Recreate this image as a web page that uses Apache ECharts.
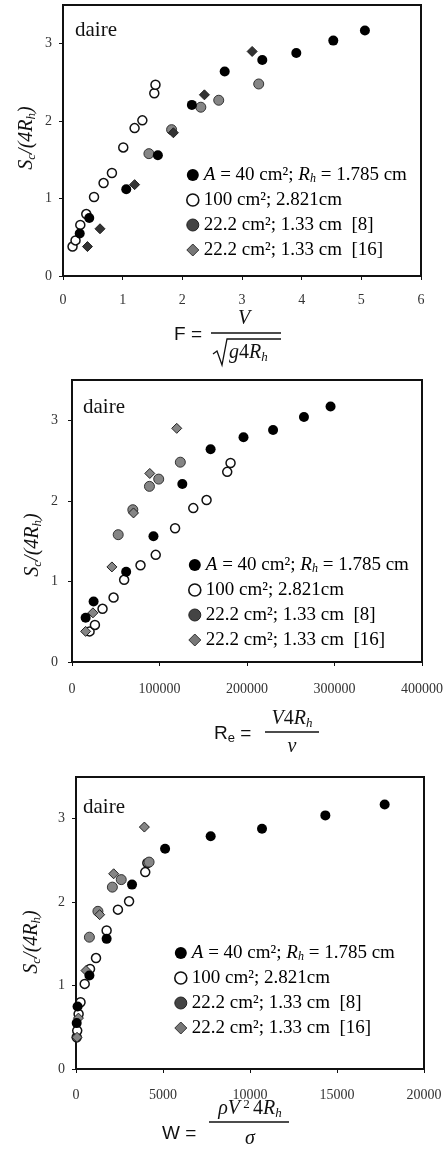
<!DOCTYPE html>
<html>
<head>
<meta charset="utf-8">
<title>daire</title>
<script src="https://cdn.jsdelivr.net/npm/echarts@6.0.0/dist/echarts.min.js"></script>
<style>
  html, body { margin: 0; padding: 0; background: #fff; }
  #main { width: 446px; height: 1167px; }
</style>
</head>
<body>
<div id="main"></div>
<script>
// ordinate shared by the three panels: Sc/(4Rh)
var yA = [0.55, 0.75, 1.12, 1.56, 2.21, 2.64, 2.79, 2.88, 3.04, 3.17];
var yB = [0.38, 0.46, 0.66, 0.80, 1.02, 1.20, 1.33, 1.66, 1.91, 2.01, 2.36, 2.47];
var yC = [1.58, 1.89, 2.18, 2.27, 2.48];
var yD = [0.38, 0.61, 1.18, 1.85, 2.34, 2.90];

// panel 1 : Froude number
var fA = [0.28, 0.44, 1.06, 1.59, 2.16, 2.71, 3.34, 3.91, 4.53, 5.06];
var fB = [0.16, 0.21, 0.29, 0.39, 0.52, 0.68, 0.82, 1.01, 1.20, 1.33, 1.53, 1.55];
var fC = [1.44, 1.82, 2.31, 2.61, 3.28];
var fD = [0.41, 0.62, 1.20, 1.85, 2.37, 3.17];

// panel 2 : Reynolds number
var reA = [15600, 24700, 61900, 93100, 126100, 158400, 196000, 229800, 265100, 295500];
var reB = [20100, 26200, 34900, 47500, 59600, 78300, 95700, 117800, 138600, 153800, 177400, 181200];
var reC = [52800, 69500, 88500, 99100, 123800];
var reD = [15600, 23900, 45600, 70300, 88900, 119700];

// panel 3 : Weber number
var wA = [40, 90, 770, 1760, 3220, 5120, 7740, 10690, 14330, 17740];
var wB = [40, 70, 150, 260, 500, 805, 1150, 1760, 2410, 3050, 3980, 4100];
var wC = [770, 1260, 2090, 2600, 4200];
var wD = [60, 140, 575, 1360, 2165, 3930];

var seriesNames = [
  'A = 40 cm²; Rh = 1.785 cm',
  '100 cm²; 2.821cm',
  '22.2 cm²; 1.33 cm [8]',
  '22.2 cm²; 1.33 cm [16]'
];
var legendRich = [
  '{i|A}{n| = 40 cm²; }{i|R}{s|h}{n| = 1.785 cm}',
  '{n|100 cm²; 2.821cm}',
  '{n|22.2 cm²; 1.33 cm  [8]}',
  '{n|22.2 cm²; 1.33 cm  [16]}'
];
var xMax = [6, 400000, 20000];
var xStep = [1, 100000, 5000];
var yTicks = [0, 1, 2, 3];

var serif = '"Liberation Serif", "Times New Roman", serif';
var sans = '"Liberation Sans", Arial, sans-serif';

var chart = echarts.init(document.getElementById('main'));

// layout of the three stacked panels
var panels = [
  { left: 63, top: 5, width: 358, height: 271, xMargin: 17, yMargin: 11, legendLeft: 186, legendTop: 165 },
  { left: 72, top: 380, width: 351, height: 282, xMargin: 20, yMargin: 14, legendLeft: 188, legendTop: 555 },
  { left: 76, top: 777, width: 348, height: 292, xMargin: 19, yMargin: 11, legendLeft: 174, legendTop: 943 }
];

var xs = [[fA, fB, fC, fD], [reA, reB, reC, reD], [wA, wB, wC, wD]];
var ys = [yA, yB, yC, yD];

function pairs(x, y) {
  return x.map(function (v, i) { return [v, y[i]]; });
}

var grids = [], xAxes = [], yAxes = [], legends = [], series = [];

panels.forEach(function (p, k) {
  grids.push({
    left: p.left, top: p.top, width: p.width, height: p.height,
    show: true, borderColor: '#111', borderWidth: 2
  });
  xAxes.push({
    gridIndex: k, type: 'value', min: 0, max: xMax[k], interval: xStep[k],
    splitLine: { show: false },
    axisLine: { show: true, onZero: false, lineStyle: { color: '#111', width: 2 } },
    axisTick: { show: true, length: 4, lineStyle: { color: '#111' } },
    axisLabel: {
      margin: p.xMargin, fontFamily: serif, fontSize: 14, color: '#333',
      formatter: function (v) { return String(v); }
    }
  });
  yAxes.push({
    gridIndex: k, type: 'value', min: 0, max: 3.5,
    splitLine: { show: false },
    axisLine: { show: true, onZero: false, lineStyle: { color: '#111', width: 2 } },
    axisTick: { show: true, length: 4, customValues: yTicks, lineStyle: { color: '#111' } },
    axisLabel: {
      margin: p.yMargin, fontFamily: serif, fontSize: 14, color: '#333',
      customValues: yTicks,
      formatter: function (v) { return v % 1 === 0 ? String(v) : ''; }
    }
  });
  legends.push({
    orient: 'vertical', left: p.legendLeft, top: p.legendTop,
    itemWidth: 12, itemHeight: 12, itemGap: 5, padding: 0,
    selectedMode: false,
    data: [
      { name: seriesNames[0], icon: 'circle', itemStyle: { color: '#000', borderWidth: 0, opacity: 1 } },
      { name: seriesNames[1], icon: 'circle', itemStyle: { color: '#fff', borderColor: '#111', borderWidth: 1.6, opacity: 1 } },
      { name: seriesNames[2], icon: 'circle', itemStyle: { color: '#444', borderColor: '#222', borderWidth: 1, opacity: 1 } },
      { name: seriesNames[3], icon: 'diamond', itemStyle: { color: '#777', borderColor: '#333', borderWidth: 1, opacity: 1 } }
    ],
    formatter: function (name) { return legendRich[seriesNames.indexOf(name)]; },
    textStyle: {
      color: '#000', lineHeight: 20,
      rich: {
        n: { fontFamily: serif, fontSize: 19, lineHeight: 20, color: '#000' },
        i: { fontFamily: serif, fontSize: 19, fontStyle: 'italic', lineHeight: 20, color: '#000' },
        s: { fontFamily: serif, fontSize: 12, fontStyle: 'italic', lineHeight: 12, verticalAlign: 'bottom', color: '#000' }
      }
    }
  });

  var diamondFill = k === 0 ? '#333' : '#858585';
  var styles = [
    { symbol: 'circle', symbolSize: 10, itemStyle: { color: '#000', opacity: 1 } },
    { symbol: 'circle', symbolSize: 9, itemStyle: { color: '#fff', borderColor: '#111', borderWidth: 1.5, opacity: 1 } },
    { symbol: 'circle', symbolSize: 10, itemStyle: { color: '#858585', borderColor: '#333', borderWidth: 1, opacity: 1 } },
    { symbol: 'diamond', symbolSize: 10, itemStyle: { color: diamondFill, borderColor: '#222', borderWidth: 1, opacity: 1 } }
  ];
  // draw order: open, [8], [16], then black on top
  [1, 2, 3, 0].forEach(function (j) {
    series.push({
      type: 'scatter', name: seriesNames[j],
      xAxisIndex: k, yAxisIndex: k,
      symbol: styles[j].symbol, symbolSize: styles[j].symbolSize,
      itemStyle: styles[j].itemStyle,
      emphasis: { disabled: true },
      data: pairs(xs[k][j], ys[j])
    });
  });
});

// text bits: "daire", y titles and the formula under each x axis
function txt(x, y, text, rich, align, rot) {
  return {
    type: 'text', x: x, y: y, rotation: rot || 0,
    style: {
      text: text, rich: rich,
      textAlign: align || 'left', textVerticalAlign: 'middle', fill: '#111'
    }
  };
}
var R = {
  n: { fontFamily: serif, fontSize: 20, color: '#111', lineHeight: 22 },
  i: { fontFamily: serif, fontSize: 20, fontStyle: 'italic', color: '#111', lineHeight: 22 },
  s: { fontFamily: serif, fontSize: 13, fontStyle: 'italic', color: '#111', lineHeight: 13, verticalAlign: 'bottom' },
  p: { fontFamily: serif, fontSize: 13, color: '#111', lineHeight: 13, verticalAlign: 'top' },
  f: { fontFamily: sans, fontSize: 19, color: '#111', lineHeight: 22 },
  fs: { fontFamily: sans, fontSize: 13, color: '#111', lineHeight: 13, verticalAlign: 'bottom' },
  d: { fontFamily: serif, fontSize: 21, color: '#111', lineHeight: 22 },
  y: { fontFamily: serif, fontSize: 20, fontStyle: 'italic', color: '#222', lineHeight: 22 },
  ys: { fontFamily: serif, fontSize: 13, fontStyle: 'italic', color: '#222', lineHeight: 13, verticalAlign: 'bottom' }
};
var yTitle = '{y|S}{ys|c}{y|/(4R}{ys|h}{y|)}';
var ink = { stroke: '#111', lineWidth: 1.3 };

var graphics = [
  txt(75, 30, '{d|daire}', R),
  txt(83, 407, '{d|daire}', R),
  txt(83, 807, '{d|daire}', R),
  txt(27, 138, yTitle, R, 'center', Math.PI / 2),
  txt(33, 545, yTitle, R, 'center', Math.PI / 2),
  txt(32, 942, yTitle, R, 'center', Math.PI / 2),

  // F = V / sqrt(g 4 Rh)
  txt(174, 335, '{f|F =}', R),
  { type: 'line', shape: { x1: 211, y1: 333, x2: 281, y2: 333 }, style: ink },
  txt(244, 319, '{i|V}', R, 'center'),
  { type: 'polyline', shape: { points: [[213, 354], [217, 351], [222, 365], [227, 339], [281, 339]] }, style: ink },
  txt(229, 353, '{i|g}{n|4}{i|R}{s|h}', R),

  // Re = V 4 Rh / nu
  txt(214, 734, '{f|R}{fs|e}{f| =}', R),
  { type: 'line', shape: { x1: 265, y1: 732, x2: 319, y2: 732 }, style: ink },
  txt(292, 719, '{i|V}{n|4}{i|R}{s|h}', R, 'center'),
  txt(292, 747, '{i|ν}', R, 'center'),

  // W = rho V^2 4 Rh / sigma
  txt(162, 1134, '{f|W =}', R),
  { type: 'line', shape: { x1: 209, y1: 1122, x2: 289, y2: 1122 }, style: ink },
  txt(250, 1109, '{i|ρV}{p| 2 }{n|4}{i|R}{s|h}', R, 'center'),
  txt(250, 1139, '{i|σ}', R, 'center')
];

chart.setOption({
  animation: false,
  backgroundColor: '#fff',
  grid: grids,
  xAxis: xAxes,
  yAxis: yAxes,
  legend: legends,
  series: series,
  graphic: graphics
});
</script>
</body>
</html>
